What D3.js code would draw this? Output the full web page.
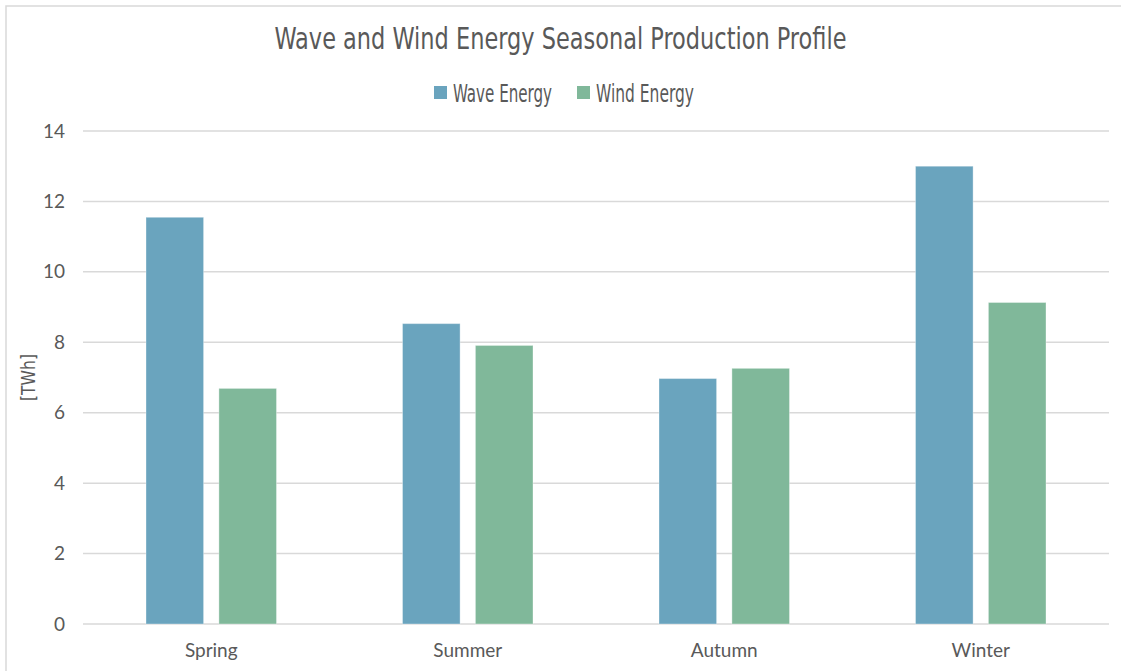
<!DOCTYPE html>
<html>
<head>
<meta charset="utf-8">
<script src="https://cdn.jsdelivr.net/npm/d3@7"></script>
<style>
  html, body { margin: 0; padding: 0; background: #fff; }
  svg { display: block; }
</style>
</head>
<body>
<svg id="chart" width="1121" height="671"></svg>
<script>
// Seasonal production, TWh
const seasons = ["Spring", "Summer", "Autumn", "Winter"];
const seriesNames = ["Wave Energy", "Wind Energy"];
const waveEnergy = [11.55, 8.53, 6.97, 13.0];
const windEnergy = [6.69, 7.91, 7.26, 9.13];
const yTicks = [0, 2, 4, 6, 8, 10, 12, 14];

const colors = ["#6aa4be", "#80b89a"];
const condensed = "'DejaVu Sans Condensed', 'DejaVu Sans', sans-serif";
const body = "Lato, 'Open Sans', sans-serif";
const textGrey = "#595959";

const svg = d3.select("#chart");
const W = 1121, H = 671;
const margin = { left: 83, right: 12, top: 131, bottom: 47 };
const plotW = W - margin.left - margin.right;
const plotH = H - margin.top - margin.bottom;

// outer chart frame
svg.append("rect")
  .attr("x", 6).attr("y", 6)
  .attr("width", W + 20).attr("height", H + 20)
  .attr("fill", "#fff")
  .attr("stroke", "#d9d9d9").attr("stroke-width", 1.5);

const rows = seasons.map((s, i) => ({ season: s, values: [waveEnergy[i], windEnergy[i]] }));

const x0 = d3.scaleBand().domain(seasons).range([0, plotW]).paddingInner(0).paddingOuter(0);
const x1 = d3.scaleBand().domain(seriesNames).range([63, x0.bandwidth() - 63]).paddingInner(0.21);
const y = d3.scaleLinear().domain([0, 14]).range([plotH, 0]);

const g = svg.append("g").attr("transform", `translate(${margin.left},${margin.top})`);

// horizontal gridlines
g.append("g").selectAll("line").data(yTicks).join("line")
  .attr("x1", 0).attr("x2", plotW)
  .attr("y1", d => y(d)).attr("y2", d => y(d))
  .attr("stroke", "#d9d9d9").attr("stroke-width", 1.5);

// y axis labels
const yAxis = d3.axisLeft(y).tickValues(yTicks).tickSize(0).tickPadding(18);
g.append("g").call(yAxis)
  .call(a => a.select(".domain").remove())
  .selectAll("text")
  .attr("font-family", body).attr("font-size", 19).attr("fill", textGrey);

// x axis labels
const xAxis = d3.axisBottom(x0).tickSize(0).tickPadding(19.5);
g.append("g").attr("transform", `translate(0,${plotH})`).call(xAxis)
  .call(a => a.select(".domain").remove())
  .selectAll("text")
  .attr("font-family", body).attr("font-size", 19).attr("fill", textGrey);

// bars
const groups = g.append("g").selectAll("g").data(rows).join("g")
  .attr("transform", d => `translate(${x0(d.season)},0)`);

groups.selectAll("rect")
  .data(d => d.values.map((v, i) => ({ name: seriesNames[i], value: v, i })))
  .join("rect")
  .attr("x", d => x1(d.name))
  .attr("width", x1.bandwidth())
  .attr("y", d => y(d.value))
  .attr("height", d => y(0) - y(d.value))
  .attr("fill", (d) => colors[d.i])
  .attr("stroke", "rgba(255,255,255,0.35)")
  .attr("stroke-width", 1);

// y axis title
svg.append("text")
  .attr("transform", `translate(35,${margin.top + plotH / 2}) rotate(-90)`)
  .attr("text-anchor", "middle")
  .attr("font-family", condensed).attr("font-stretch", "condensed")
  .attr("font-size", 19).attr("fill", textGrey)
  .attr("textLength", 47).attr("lengthAdjust", "spacingAndGlyphs")
  .text("[TWh]");

// chart title
svg.append("text")
  .attr("x", 560.5).attr("y", 48.5)
  .attr("text-anchor", "middle")
  .attr("font-family", condensed).attr("font-stretch", "condensed")
  .attr("font-size", 31).attr("fill", textGrey)
  .attr("textLength", 572).attr("lengthAdjust", "spacingAndGlyphs")
  .text("Wave and Wind Energy Seasonal Production Profile");

// legend
const legend = svg.append("g");
const legendItems = [
  { name: seriesNames[0], color: colors[0], x: 434, w: 99 },
  { name: seriesNames[1], color: colors[1], x: 577, w: 98 }
];
legendItems.forEach(it => {
  legend.append("rect")
    .attr("x", it.x).attr("y", 86).attr("width", 13).attr("height", 13)
    .attr("fill", it.color);
  legend.append("text")
    .attr("x", it.x + 19).attr("y", 101.5)
    .attr("font-family", condensed).attr("font-stretch", "condensed")
    .attr("font-size", 24).attr("fill", textGrey)
    .attr("textLength", it.w).attr("lengthAdjust", "spacingAndGlyphs")
    .text(it.name);
});
</script>
</body>
</html>
